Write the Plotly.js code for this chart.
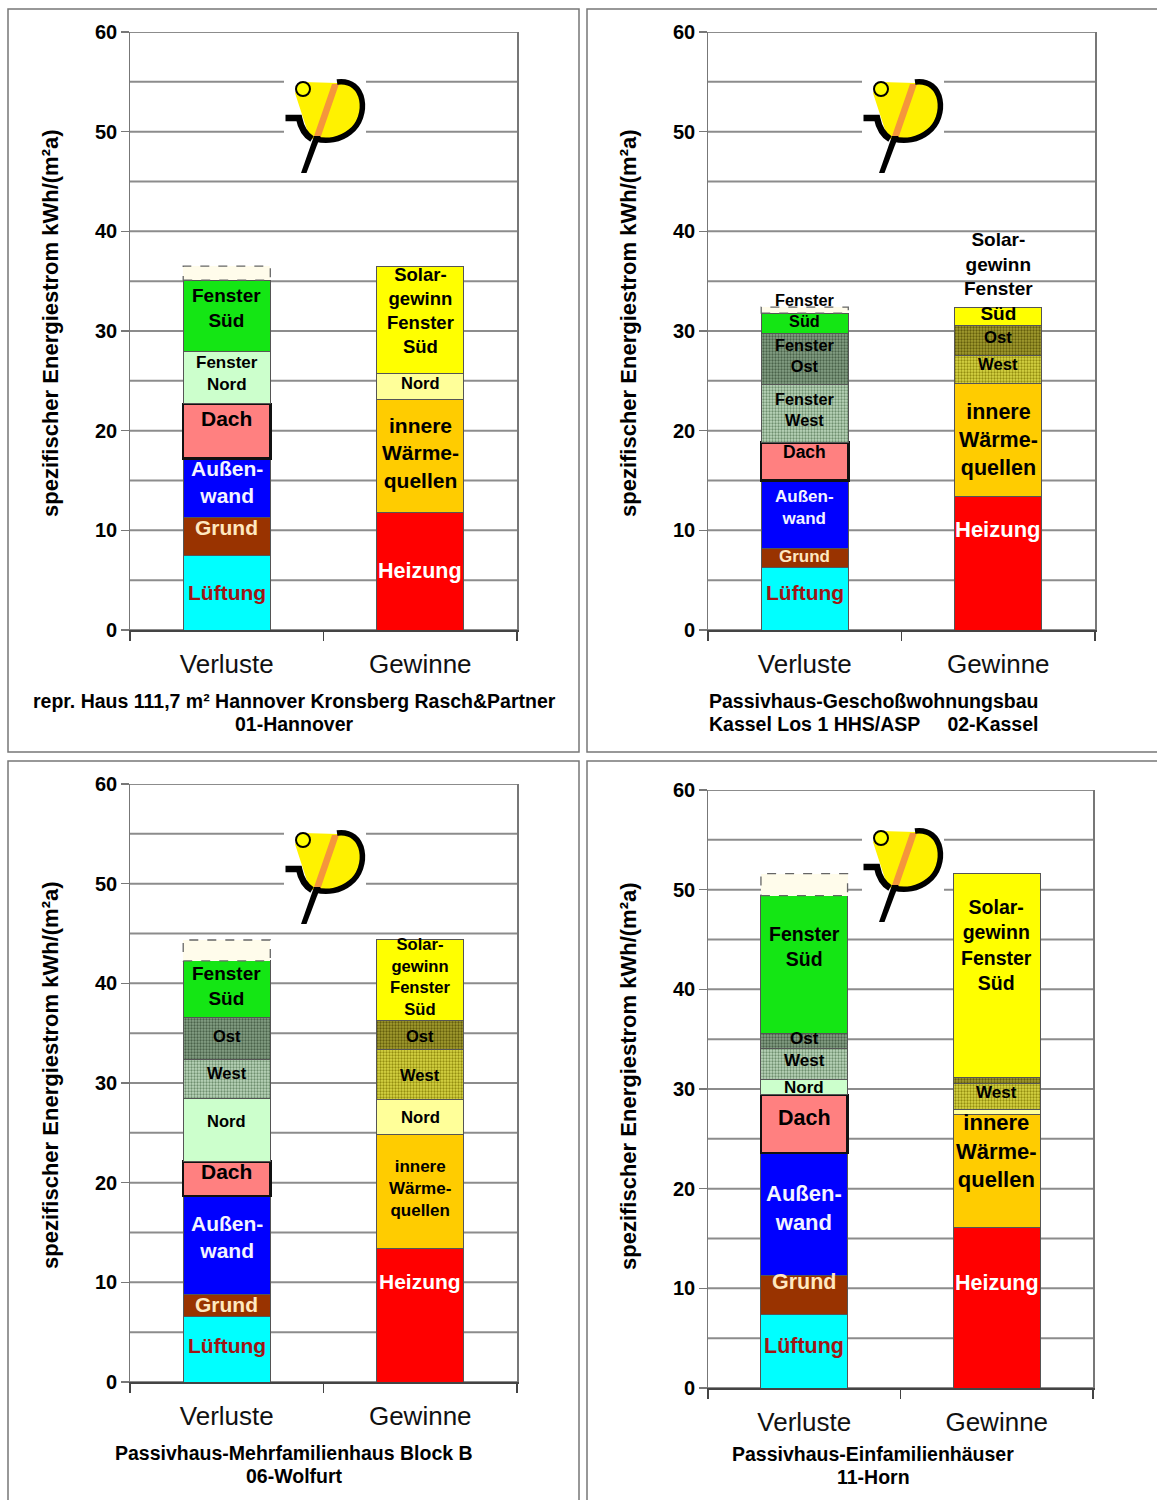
<!DOCTYPE html>
<html><head><meta charset="utf-8">
<script src="https://cdn.plot.ly/plotly-3.0.1.min.js"></script>
<style>html,body{margin:0;padding:0;background:#fff}#chart{width:1157px;height:1500px}</style>
</head><body><div id="chart"></div>
<script>
// ---------------- DATA ----------------
const kategorien = ["Verluste", "Gewinne"];
const verlustKomponenten = ["Lüftung","Grund","Außenwand","Dach","Fenster Nord","Fenster West","Fenster Ost","Fenster Süd","Rest"];
const gewinnKomponenten = ["Heizung","innere Wärmequellen","Solar Nord","Solar West","Solar Ost","Solar Süd"];

const hannoverVerluste = [7.5, 3.8, 5.9, 5.5, 5.2, 0, 0, 7.2, 1.4];
const hannoverGewinne  = [11.8, 11.3, 2.6, 0, 0, 10.8];
const kasselVerluste   = [6.25, 1.95, 6.8, 3.8, 0, 5.8, 5.1, 2.1, 0.6];
const kasselGewinne    = [13.4, 11.3, 0, 2.8, 3.1, 1.8];
const wolfurtVerluste  = [6.55, 2.2, 9.9, 3.45, 6.35, 3.9, 4.2, 5.7, 2.1];
const wolfurtGewinne   = [13.4, 11.4, 3.55, 5.0, 2.9, 8.1];
const hornVerluste     = [7.4, 3.9, 12.3, 5.8, 1.6, 3.1, 1.5, 13.8, 2.2];
const hornGewinne      = [16.1, 11.3, 0.5, 2.7, 0.6, 20.4];

const hannoverVerlustTexte = ["Lüftung","Grund","Außen-<br>wand","Dach","Fenster<br>Nord","","","Fenster<br>Süd",""];
const hannoverGewinnTexte  = ["Heizung","innere<br>Wärme-<br>quellen","Nord","","","Solar-<br>gewinn<br>Fenster<br>Süd"];
const kasselVerlustTexte   = ["Lüftung","Grund","Außen-<br>wand","Dach","","Fenster<br>West","Fenster<br>Ost","Fenster<br>Süd",""];
const kasselGewinnTexte    = ["Heizung","innere<br>Wärme-<br>quellen","","West","Ost","Solar-<br>gewinn<br>Fenster<br>Süd"];
const wolfurtVerlustTexte  = ["Lüftung","Grund","Außen-<br>wand","Dach","Nord","West","Ost","Fenster<br>Süd",""];
const wolfurtGewinnTexte   = ["Heizung","innere<br>Wärme-<br>quellen","Nord","West","Ost","Solar-<br>gewinn<br>Fenster<br>Süd"];
const hornVerlustTexte     = ["Lüftung","Grund","Außen-<br>wand","Dach","Nord","West","Ost","Fenster<br>Süd",""];
const hornGewinnTexte      = ["Heizung","innere<br>Wärme-<br>quellen","","West","","Solar-<br>gewinn<br>Fenster<br>Süd"];

const hannoverTitel = ["repr. Haus 111,7 m² Hannover Kronsberg Rasch&Partner", "01-Hannover"];
const kasselTitel   = ["Passivhaus-Geschoßwohnungsbau", "Kassel Los 1 HHS/ASP     02-Kassel"];
const wolfurtTitel  = ["Passivhaus-Mehrfamilienhaus Block B", "06-Wolfurt"];
const hornTitel     = ["Passivhaus-Einfamilienhäuser", "11-Horn"];

const yAchsenTitel = "spezifischer Energiestrom kWh/(m²a)";
const yTickWerte = [0, 10, 20, 30, 40, 50, 60];
const yTickTexte = ["0", "10", "20", "30", "40", "50", "60"];
const yGitterWerte = [0, 5, 10, 15, 20, 25, 30, 35, 40, 45, 50, 55, 60];

// ---------------- STYLE ----------------
const W = 1157, H = 1500;
const FONT = '"Liberation Sans", Arial, sans-serif';
const BAR_W = 0.45;
const GRID = '#8c8c8c';

const verlustStil = {
  "Lüftung":      {color:'#00FFFF', text:'#A01515'},
  "Grund":        {color:'#993300', text:'#FFE8C0'},
  "Außenwand":    {color:'#0000FF', text:'#F4F4FF'},
  "Dach":         {color:'#FF8080', text:'#000', lw:2.5, lc:'#111'},
  "Fenster Nord": {color:'#CCFFCC', text:'#000'},
  "Fenster West": {color:'#A9C7A9', text:'#000', pattern:{shape:'.', bgcolor:'#BDD8BD', fgcolor:'#6F8F6F', size:3, solidity:0.45}},
  "Fenster Ost":  {color:'#6F8B6F', text:'#000', pattern:{shape:'.', bgcolor:'#87A287', fgcolor:'#4A634A', size:3, solidity:0.45}},
  "Fenster Süd":  {color:'#14E614', text:'#000'},
  "Rest":         {color:'#FFFCEB', text:'#000', lw:0, dashed:true}
};
const gewinnStil = {
  "Heizung":             {color:'#FF0000', text:'#FFFFFF'},
  "innere Wärmequellen": {color:'#FFCC00', text:'#000'},
  "Solar Nord":          {color:'#FFFF99', text:'#000'},
  "Solar West":          {color:'#C6C22C', text:'#000', pattern:{shape:'.', bgcolor:'#D9D645', fgcolor:'#948E10', size:3, solidity:0.45}},
  "Solar Ost":           {color:'#8E8820', text:'#000', pattern:{shape:'.', bgcolor:'#A49E30', fgcolor:'#655F0C', size:3, solidity:0.45}},
  "Solar Süd":           {color:'#FFFF00', text:'#000'}
};

// label font sizes and vertical nudges (px) per panel
const panels = [
  {v:hannoverVerluste, g:hannoverGewinne, vt:hannoverVerlustTexte, gt:hannoverGewinnTexte, titel:hannoverTitel,
   vSize:[21,21,21,21,17,0,0,19,0], vShift:[0,9,6,13,4,0,0,8,0],
   gSize:[21.5,21,16.5,0,0,18.5], gShift:[0,3,4,0,0,10],
   box:[8,9,579,752], plot:[130,32,517,630], yTitle:[50,323], sub:[294,701,724], logo:[303,89]},
  {v:kasselVerluste, g:kasselGewinne, vt:kasselVerlustTexte, gt:kasselGewinnTexte, titel:kasselTitel,
   vSize:[21,17,17,17.5,0,16.3,16.3,16.3,0], vShift:[6,1,7,10,0,4,4,13,0],
   gSize:[22,21.5,0,16.7,16.7,19], gShift:[34,0,0,5,3,40],
   box:[587,9,1160,752], plot:[708,32,1095,630], yTitle:[628,323], sub:[873,701,724], logo:[881,89]},
  {v:wolfurtVerluste, g:wolfurtGewinne, vt:wolfurtVerlustTexte, gt:wolfurtGewinnTexte, titel:wolfurtTitel,
   vSize:[21,21,21,21,16.5,16.5,16.5,19,0], vShift:[4,1,8,7,9,6,3,3,0],
   gSize:[21,17,16.7,16.5,16.5,16.6], gShift:[34,3,0,0,-1,3],
   box:[8,761,579,1503], plot:[130,784,517,1382], yTitle:[50,1075], sub:[294,1453,1476], logo:[303,840]},
  {v:hornVerluste, g:hornGewinne, vt:hornVerlustTexte, gt:hornGewinnTexte, titel:hornTitel,
   vSize:[21.5,21.5,22,21.5,17,17,17,19.5,0], vShift:[5,13,6,6,0,3,2,18,0],
   gSize:[21.5,22,0,17,0,19.5], gShift:[25,20,0,4,0,30],
   box:[587,761,1160,1503], plot:[708,790,1093,1388], yTitle:[628,1076], sub:[873,1454,1477], logo:[881,838]}
];

const px = x => x / W;
const py = y => 1 - y / H;

const traces = [];
const annotations = [];
const shapes = [];
const layout = {
  width: W, height: H, margin:{l:0,r:0,t:0,b:0},
  paper_bgcolor:'#fff', plot_bgcolor:'#fff',
  barmode:'stack', showlegend:false,
  font:{family:FONT, color:'#000'}
};

function logoShapes(cx, cy) {
  const P = (dx, dy) => `${px(cx+dx)},${py(cy+dy)}`;
  const out = [];
  out.push({type:'rect', xref:'paper', yref:'paper', x0:px(cx-19), x1:px(cx+63), y0:py(cy+86), y1:py(cy-13),
            fillcolor:'#fff', line:{width:0}});
  out.push({type:'path', xref:'paper', yref:'paper',
    path:`M ${P(-8,4)} L ${P(0,-7)} L ${P(34,-6)} C ${P(62,-10)} ${P(66,28)} ${P(46,42)} C ${P(36,50)} ${P(24,53)} ${P(14,50)} L ${P(7,50)} Z`,
    fillcolor:'#FFF200', line:{width:0}});
  out.push({type:'path', xref:'paper', yref:'paper',
    path:`M ${P(29,-5)} L ${P(36,-5)} L ${P(17,50)} L ${P(10,50)} Z`, fillcolor:'#F5963C', line:{width:0}});
  out.push({type:'path', xref:'paper', yref:'paper',
    path:`M ${P(34,-7)} C ${P(63,-11)} ${P(67,28)} ${P(47,43)} C ${P(37,51)} ${P(24,53)} ${P(13,50)}`,
    fillcolor:'rgba(0,0,0,0)', line:{color:'#000', width:5.5}});
  out.push({type:'path', xref:'paper', yref:'paper',
    path:`M ${P(-17.5,29)} L ${P(-4,29)} Q ${P(-1,44)} ${P(9,50)}`,
    fillcolor:'rgba(0,0,0,0)', line:{color:'#000', width:6.5}});
  out.push({type:'path', xref:'paper', yref:'paper',
    path:`M ${P(11,47)} L ${P(17.5,47)} L ${P(3.5,84)} L ${P(-2,84)} Z`, fillcolor:'#000', line:{width:0}});
  out.push({type:'circle', xref:'paper', yref:'paper', x0:px(cx-7), x1:px(cx+7), y0:py(cy+7), y1:py(cy-7),
            fillcolor:'#FFFF00', line:{color:'#000', width:2}});
  return out;
}

panels.forEach((p, i) => {
  const s = i === 0 ? '' : String(i + 1);
  const xa = 'x' + s, ya = 'y' + s;
  const [l, t, r, b] = p.plot;

  // panel frame
  shapes.push({type:'rect', xref:'paper', yref:'paper', layer:'below',
    x0:px(p.box[0]), x1:px(p.box[2]), y0:py(p.box[3]), y1:py(p.box[1]),
    line:{color:'#777', width:1.5}, fillcolor:'rgba(0,0,0,0)'});

  // horizontal grid lines every 5 units, beneath the bars, on the y scale
  yGitterWerte.forEach(gv => {
    shapes.push({type:'line', xref:xa + ' domain', yref:ya, x0:0, x1:1, y0:gv, y1:gv, layer:'below',
      line:{color:GRID, width:2}});
  });

  layout['xaxis' + s] = {
    domain:[px(l), px(r)], anchor:ya, type:'category', categoryorder:'array', categoryarray:kategorien,
    range:[-0.5, 1.5], showline:true, linecolor:'#444', linewidth:1.5,
    ticks:'outside', ticklen:9, tickwidth:1.5, tickcolor:'#444', tickson:'boundaries',
    tickfont:{family:FONT, size:26, color:'#111'}, ticklabelstandoff:10,
    showgrid:false, zeroline:false, fixedrange:true
  };
  layout['yaxis' + s] = {
    domain:[py(b), py(t)], anchor:xa, range:[0, 60],
    tickmode:'array', tickvals:yTickWerte, showticklabels:false,
    showgrid:false,
    showline:true, linecolor:'#777', linewidth:1.5, mirror:true,
    ticks:'outside', ticklen:8, tickwidth:1.5, tickcolor:'#777',
    zeroline:false, fixedrange:true
  };
  // y tick labels placed on the y scale
  yTickWerte.forEach((tv, k) => {
    annotations.push({xref:xa + ' domain', yref:ya, x:0, y:tv, xanchor:'right', yanchor:'middle', xshift:-11,
      showarrow:false, text:yTickTexte[k], font:{family:FONT, size:20, weight:'bold', color:'#000'}});
  });

  const stacks = [
    {cat:0, vals:p.v, comps:verlustKomponenten, styles:verlustStil, texts:p.vt, sizes:p.vSize, shifts:p.vShift},
    {cat:1, vals:p.g, comps:gewinnKomponenten, styles:gewinnStil, texts:p.gt, sizes:p.gSize, shifts:p.gShift}
  ];
  stacks.forEach(st => {
    let base = 0;
    st.vals.forEach((val, j) => {
      if (!(val > 0)) return;
      const comp = st.comps[j];
      const sty = st.styles[comp];
      const marker = {color:sty.color, line:{color: sty.lc || '#555', width: sty.lw !== undefined ? sty.lw : 1}};
      if (sty.pattern) marker.pattern = Object.assign({fillmode:'replace'}, sty.pattern);
      traces.push({type:'bar', x:[kategorien[st.cat]], y:[val], xaxis:xa, yaxis:ya, width:BAR_W,
        name:comp, marker, hovertemplate: comp + ': %{y}<extra></extra>'});
      if (sty.dashed) {
        shapes.push({type:'rect', xref:xa, yref:ya, x0:st.cat - BAR_W/2, x1:st.cat + BAR_W/2, y0:base, y1:base + val,
          line:{color:'#666', width:1.3, dash:'dash'}, fillcolor:'rgba(0,0,0,0)'});
      }
      const txt = st.texts[j];
      if (txt) {
        annotations.push({xref:xa, yref:ya, x:st.cat, y:base + val/2, yshift:st.shifts[j], showarrow:false,
          text:txt, align:'center', xanchor:'center', yanchor:'middle',
          font:{family:FONT, size:st.sizes[j], weight:'bold', color:sty.text}});
      }
      base += val;
    });
  });

  // y title
  annotations.push({xref:'paper', yref:'paper', x:px(p.yTitle[0]), y:py(p.yTitle[1]), textangle:-90,
    showarrow:false, xanchor:'center', yanchor:'middle', text:yAchsenTitel,
    font:{family:FONT, size:22, weight:'bold', color:'#000'}});
  // subtitle lines
  const nb = str => str.replace(/ {2,}/g, m => '&nbsp;'.repeat(m.length));
  annotations.push({xref:'paper', yref:'paper', x:px(p.sub[0]), y:py(p.sub[1]), showarrow:false,
    xanchor:'center', yanchor:'middle', text:nb(p.titel[0]),
    font:{family:FONT, size:19.5, weight:'bold', color:'#000'}});
  annotations.push({xref:'paper', yref:'paper', x:px(p.sub[0]), y:py(p.sub[2]), showarrow:false,
    xanchor:'center', yanchor:'middle', text:nb(p.titel[1]),
    font:{family:FONT, size:19.5, weight:'bold', color:'#000'}});

  logoShapes(p.logo[0], p.logo[1]).forEach(sh => shapes.push(sh));
});

layout.annotations = annotations;
layout.shapes = shapes;

Plotly.newPlot('chart', traces, layout, {staticPlot:true, displayModeBar:false});
</script>
</body></html>
